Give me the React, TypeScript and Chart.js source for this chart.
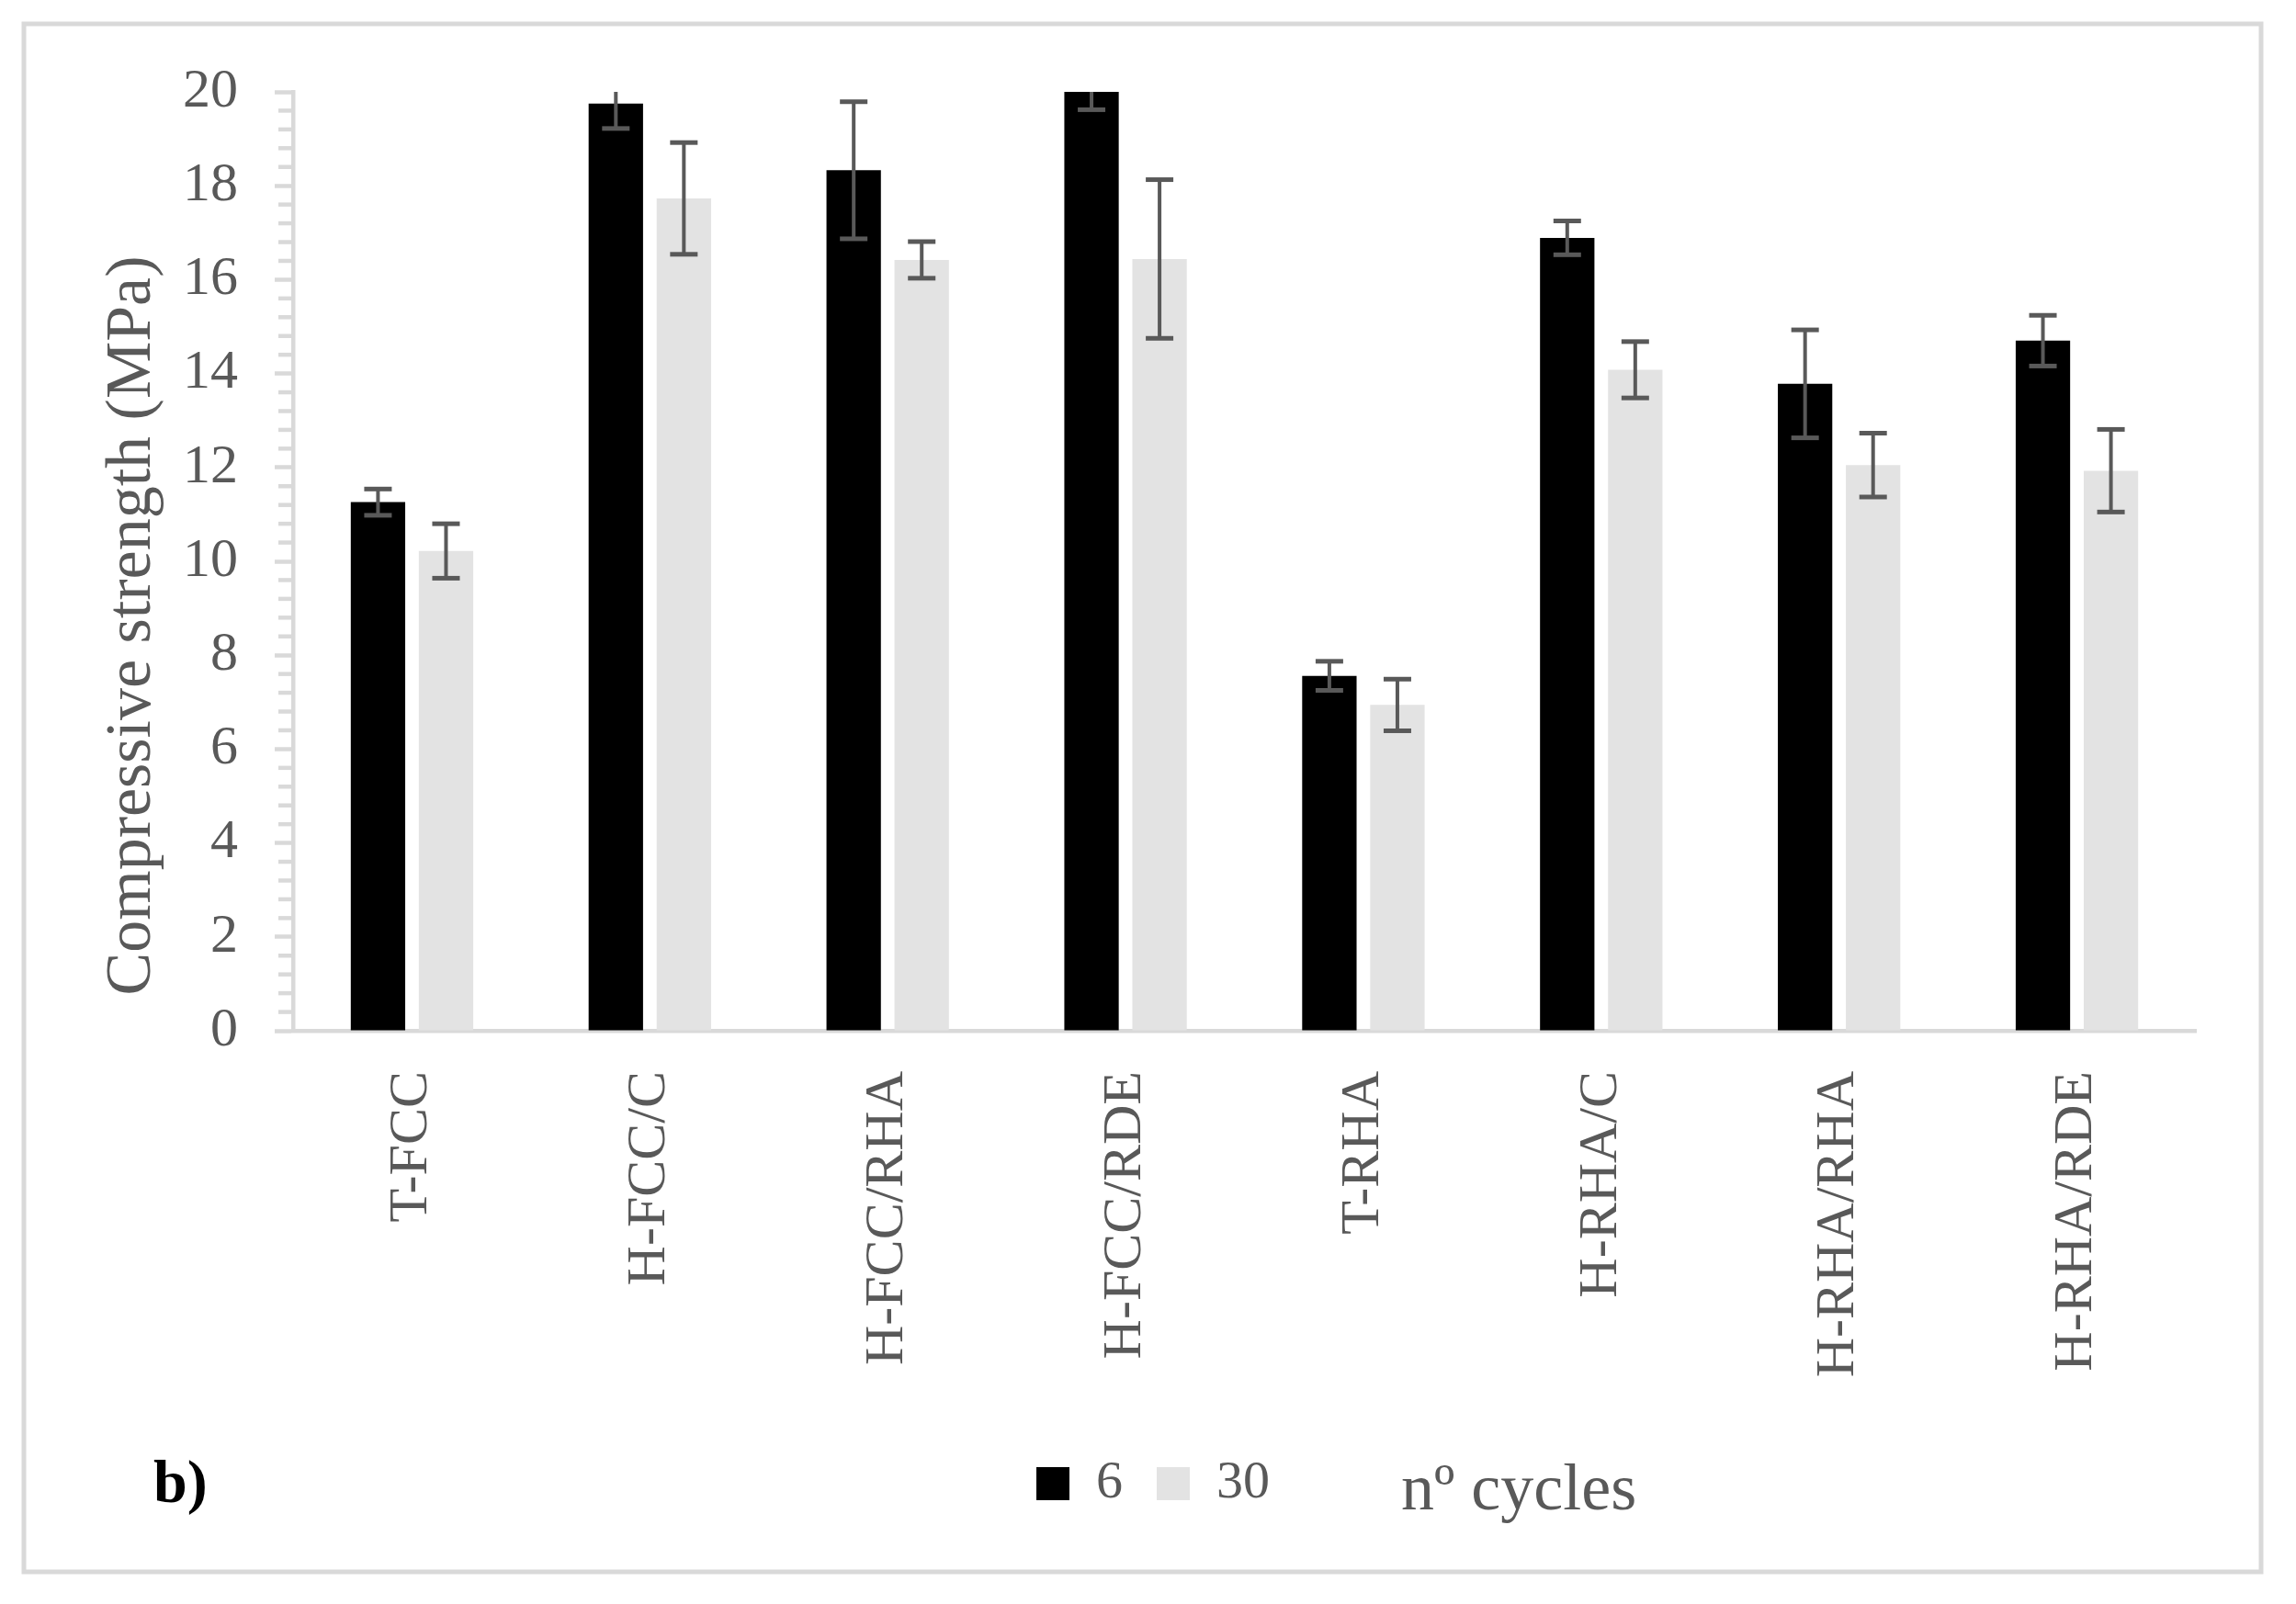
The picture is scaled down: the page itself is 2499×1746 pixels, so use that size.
import React, { useEffect, useRef } from "react";
import { Chart, registerables } from "chart.js";

Chart.register(...registerables);

// ---- data ----
const categories = ["T-FCC", "H-FCC/C", "H-FCC/RHA", "H-FCC/RDE", "T-RHA", "H-RHA/C", "H-RHA/RHA", "H-RHA/RDE"];
const seriesLabels = ["6", "30"];
const values6 = [11.26, 19.75, 18.33, 20.0, 7.56, 16.89, 13.78, 14.7];
const errors6 = [0.28, 0.53, 1.46, 0.38, 0.31, 0.36, 1.15, 0.54];
const values30 = [10.22, 17.73, 16.42, 16.44, 6.94, 14.08, 12.05, 11.93];
const errors30 = [0.58, 1.19, 0.39, 1.69, 0.55, 0.6, 0.68, 0.88];
const yMin = 0;
const yMax = 20;
const yMajorStep = 2;
const yMinorStep = 0.4;
const yTitle = "Compressive strength (MPa)";
const legendTitle = "nº cycles";
const panelLabel = "b)";

const FONT = "'Liberation Serif', 'Times New Roman', serif";
const TEXT = "#595959";
const AXIS = "#d9d9d9";
const BLACK = "#000000";
const GRAY = "#e3e3e3";

const W = 2499;
const H = 1746;

export default function App() {
  const ref = useRef<HTMLCanvasElement | null>(null);

  useEffect(() => {
    const canvas = ref.current;
    if (!canvas) return;
    const errs = [errors6, errors30];

    const framePlugin = {
      id: "frame",
      beforeDraw(chart: any) {
        const ctx = chart.ctx;
        ctx.save();
        ctx.fillStyle = "#ffffff";
        ctx.fillRect(0, 0, chart.width, chart.height);
        ctx.strokeStyle = AXIS;
        ctx.lineWidth = 5;
        ctx.strokeRect(26, 26, 2435, 1685);
        ctx.restore();
      },
    };

    const minorTicks = {
      id: "minorTicks",
      afterDraw(chart: any) {
        const ctx = chart.ctx;
        const y = chart.scales.y;
        const left = chart.chartArea.left;
        ctx.save();
        ctx.strokeStyle = AXIS;
        ctx.lineWidth = 4.5;
        const n = Math.round((yMax - yMin) / yMinorStep);
        const per = Math.round(yMajorStep / yMinorStep);
        for (let i = 0; i <= n; i++) {
          if (i % per === 0) continue;
          const py = y.getPixelForValue(yMin + i * yMinorStep);
          ctx.beginPath();
          ctx.moveTo(left - 16, py);
          ctx.lineTo(left, py);
          ctx.stroke();
        }
        ctx.restore();
      },
    };

    const errorBars = {
      id: "errorBars",
      afterDatasetsDraw(chart: any) {
        const ctx = chart.ctx;
        const ys = chart.scales.y;
        const area = chart.chartArea;
        ctx.save();
        ctx.strokeStyle = TEXT;
        chart.data.datasets.forEach((ds: any, di: number) => {
          const meta = chart.getDatasetMeta(di);
          meta.data.forEach((bar: any, i: number) => {
            const v = ds.data[i];
            const e = errs[di][i];
            const hi = v + e;
            const lo = v - e;
            const pTop = Math.max(ys.getPixelForValue(Math.min(hi, yMax)), area.top);
            const pBot = Math.min(ys.getPixelForValue(Math.max(lo, yMin)), area.bottom);
            ctx.lineWidth = 4;
            ctx.beginPath();
            ctx.moveTo(bar.x, pTop);
            ctx.lineTo(bar.x, pBot);
            ctx.stroke();
            ctx.lineWidth = 5;
            if (hi <= yMax) {
              ctx.beginPath();
              ctx.moveTo(bar.x - 15, pTop);
              ctx.lineTo(bar.x + 15, pTop);
              ctx.stroke();
            }
            if (lo >= yMin) {
              ctx.beginPath();
              ctx.moveTo(bar.x - 15, pBot);
              ctx.lineTo(bar.x + 15, pBot);
              ctx.stroke();
            }
          });
        });
        ctx.restore();
      },
    };

    const texts = {
      id: "texts",
      afterDraw(chart: any) {
        const ctx = chart.ctx;
        ctx.save();
        // y title
        ctx.fillStyle = TEXT;
        ctx.font = `70px ${FONT}`;
        ctx.textAlign = "center";
        ctx.textBaseline = "alphabetic";
        ctx.translate(163, 681);
        ctx.rotate(-Math.PI / 2);
        ctx.fillText(yTitle, 0, 0);
        ctx.restore();

        ctx.save();
        ctx.fillStyle = "#000000";
        ctx.font = `bold 66px ${FONT}`;
        ctx.textAlign = "left";
        ctx.textBaseline = "alphabetic";
        ctx.fillText(panelLabel, 167, 1635);

        ctx.fillStyle = TEXT;
        ctx.font = `72px ${FONT}`;
        ctx.fillText(legendTitle, 1525, 1643);
        ctx.restore();
      },
    };

    const chart = new Chart(canvas, {
      type: "bar",
      data: {
        labels: categories,
        datasets: [
          {
            label: seriesLabels[0],
            data: values6,
            backgroundColor: BLACK,
            borderWidth: 0,
            categoryPercentage: 0.572,
            barPercentage: 0.8,
          },
          {
            label: seriesLabels[1],
            data: values30,
            backgroundColor: GRAY,
            borderWidth: 0,
            categoryPercentage: 0.572,
            barPercentage: 0.8,
          },
        ],
      },
      options: {
        responsive: false,
        animation: false,
        devicePixelRatio: 1,
        layout: { padding: { left: 120, right: 109, top: 100, bottom: 92 } },
        plugins: {
          legend: {
            position: "bottom",
            labels: {
              font: { family: FONT, size: 58 },
              color: TEXT,
              boxWidth: 36,
              boxHeight: 36,
              padding: 37,
            },
          },
          tooltip: { enabled: false },
        },
        scales: {
          x: {
            grid: { display: false, drawTicks: false },
            border: { display: true, color: AXIS, width: 4.5 },
            ticks: {
              font: { family: FONT, size: 60 },
              color: TEXT,
              padding: 44,
              minRotation: 90,
              maxRotation: 90,
              autoSkip: false,
            },
            afterFit: (s: any) => {
              s.height = 427;
            },
          },
          y: {
            min: yMin,
            max: yMax,
            grid: {
              drawOnChartArea: false,
              drawTicks: true,
              tickLength: 20,
              tickWidth: 4.5,
              tickColor: AXIS,
            },
            border: { display: true, color: AXIS, width: 4.5 },
            ticks: {
              stepSize: yMajorStep,
              font: { family: FONT, size: 60 },
              color: TEXT,
              padding: 40,
            },
            afterFit: (s: any) => {
              s.width = 199;
            },
          },
        },
      },
      plugins: [framePlugin, minorTicks, errorBars, texts],
    });

    return () => {
      chart.destroy();
    };
  }, []);

  return (
    <div style={{ position: "absolute", left: 0, top: 0, width: W, height: H, background: "#fff" }}>
      <canvas ref={ref} width={W} height={H} style={{ display: "block", width: W, height: H }} />
    </div>
  );
}
